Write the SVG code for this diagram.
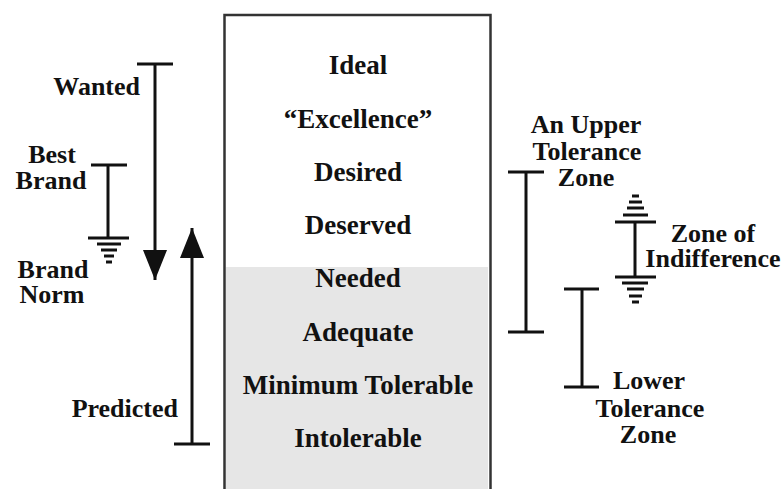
<svg xmlns="http://www.w3.org/2000/svg" width="784" height="489" viewBox="0 0 784 489">
<defs>
<style>
.t{font-family:"Liberation Serif","Times New Roman",serif;font-weight:bold;font-size:27px;fill:#111;text-anchor:middle}
.s{font-family:"Liberation Serif","Times New Roman",serif;font-weight:bold;font-size:26px;fill:#111}
.l{stroke:#111;stroke-width:3;fill:none}
</style>
<marker id="ah" markerUnits="userSpaceOnUse" markerWidth="30" markerHeight="24" refX="30" refY="12" orient="auto">
<path d="M0,0 L30,12 L0,24 Z" fill="#111"/>
</marker>
</defs>
<rect width="784" height="489" fill="#fff"/>
<g id="scale-box">
<rect x="224.5" y="15" width="266" height="490" fill="#fff" stroke="#333" stroke-width="2.5"/>
<rect x="226" y="267" width="262" height="222" fill="#e6e6e6"/>
<text class="t" x="358" y="74">Ideal</text>
<text class="t" x="358" y="127.5">“Excellence”</text>
<text class="t" x="358" y="181">Desired</text>
<text class="t" x="358" y="234">Deserved</text>
<text class="t" x="358" y="287">Needed</text>
<text class="t" x="358" y="340.5">Adequate</text>
<text class="t" x="358" y="394">Minimum Tolerable</text>
<text class="t" x="358" y="447">Intolerable</text>
</g>
<g id="connectors">
<g id="wanted-bar">
<line class="l" x1="137" y1="64" x2="173" y2="64"/>
<line class="l" x1="155" y1="64" x2="155" y2="280" marker-end="url(#ah)"/>
</g>
<g id="predicted-bar">
<line class="l" x1="174" y1="444" x2="210" y2="444"/>
<line class="l" x1="192" y1="444" x2="192" y2="228" marker-end="url(#ah)"/>
</g>
<g id="best-brand-bar">
<line class="l" x1="91" y1="165" x2="127" y2="165"/>
<line class="l" x1="108" y1="165" x2="108" y2="238"/>
<line class="l" x1="88" y1="238" x2="129" y2="238"/>
<line class="l" x1="97" y1="244" x2="121" y2="244"/>
<line class="l" x1="101" y1="250" x2="117" y2="250"/>
<line class="l" x1="104" y1="256" x2="114" y2="256"/>
<line class="l" x1="106" y1="262" x2="112" y2="262"/>
</g>
<g id="upper-tolerance-bar">
<line class="l" x1="508" y1="172" x2="544" y2="172"/>
<line class="l" x1="526" y1="172" x2="526" y2="332"/>
<line class="l" x1="508" y1="332" x2="544" y2="332"/>
</g>
<g id="indifference-bar">
<line class="l" x1="632" y1="196" x2="639" y2="196"/>
<line class="l" x1="629" y1="202" x2="642" y2="202"/>
<line class="l" x1="627" y1="208" x2="644" y2="208"/>
<line class="l" x1="623" y1="215" x2="648" y2="215"/>
<line class="l" x1="615" y1="222" x2="656" y2="222"/>
<line class="l" x1="635" y1="222" x2="635" y2="277"/>
<line class="l" x1="615" y1="277" x2="656" y2="277"/>
<line class="l" x1="622" y1="283" x2="648" y2="283"/>
<line class="l" x1="627" y1="289" x2="644" y2="289"/>
<line class="l" x1="629" y1="296" x2="642" y2="296"/>
<line class="l" x1="632" y1="302" x2="639" y2="302"/>
</g>
<g id="lower-tolerance-bar">
<line class="l" x1="564" y1="289" x2="599" y2="289"/>
<line class="l" x1="582" y1="289" x2="582" y2="387"/>
<line class="l" x1="564" y1="387" x2="599" y2="387"/>
</g>
</g>
<g id="label-wanted"><text class="s" x="140" y="95" text-anchor="end">Wanted</text></g>
<g id="label-best-brand"><text class="s" x="52" y="163" text-anchor="middle">Best</text><text class="s" x="51" y="189" text-anchor="middle">Brand</text></g>
<g id="label-brand-norm"><text class="s" x="53" y="278" text-anchor="middle">Brand</text><text class="s" x="52" y="303" text-anchor="middle">Norm</text></g>
<g id="label-predicted"><text class="s" x="178" y="417" text-anchor="end">Predicted</text></g>
<g id="label-upper"><text class="s" x="586" y="133" text-anchor="middle">An Upper</text><text class="s" x="587" y="160" text-anchor="middle">Tolerance</text><text class="s" x="586" y="186" text-anchor="middle">Zone</text></g>
<g id="label-indifference"><text class="s" x="713" y="242" text-anchor="middle">Zone of</text><text class="s" x="713" y="267" text-anchor="middle">Indifference</text></g>
<g id="label-lower"><text class="s" x="649" y="389" text-anchor="middle">Lower</text><text class="s" x="650" y="417" text-anchor="middle">Tolerance</text><text class="s" x="648" y="443" text-anchor="middle">Zone</text></g>
</svg>
